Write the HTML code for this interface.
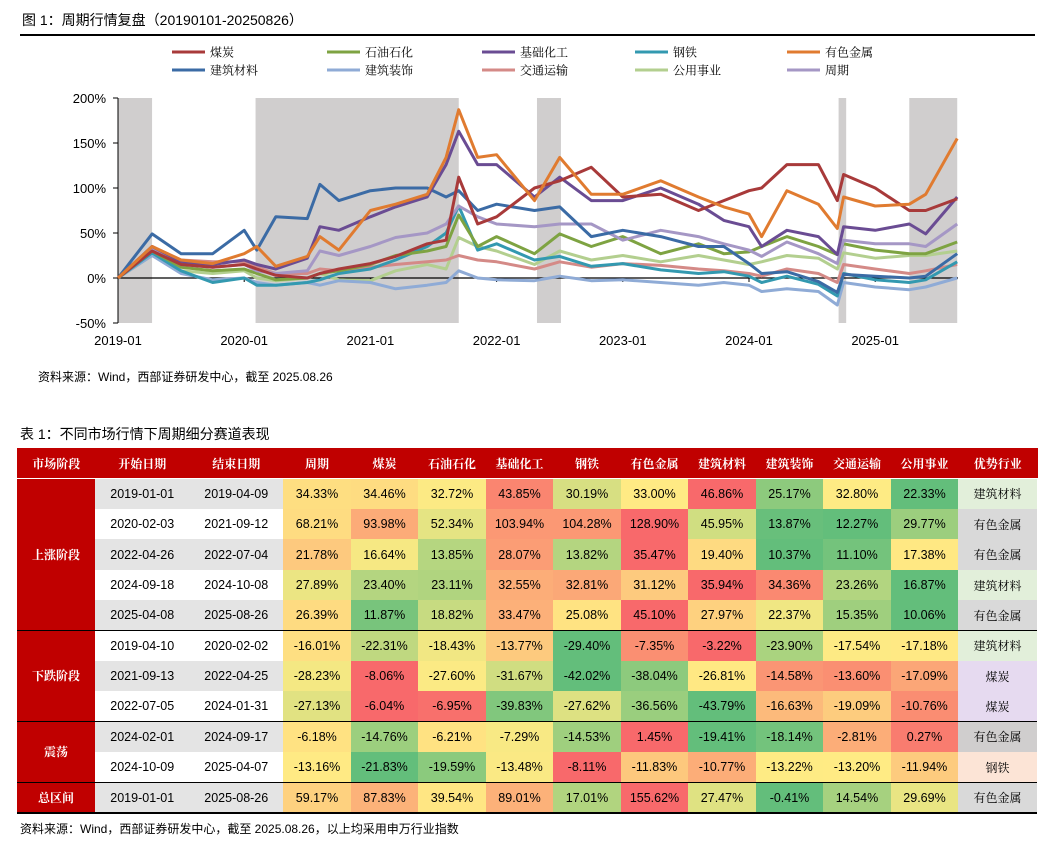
<!DOCTYPE html>
<html><head><meta charset="utf-8">
<style>
body{margin:0;background:#fff;width:1053px;height:852px;overflow:hidden;position:relative;font-family:"Liberation Sans","Noto Sans CJK SC",sans-serif;color:#000}
.abs{position:absolute}
.cell{position:absolute;display:flex;align-items:center;justify-content:center;font-size:12.5px;box-sizing:border-box}
.hd{color:#fff;font-weight:bold;font-size:12px;font-family:"Noto Serif CJK SC","Noto Sans CJK SC",sans-serif}
</style></head><body>
<div class="abs" style="left:22px;top:10px;font-size:14px">图 1：周期行情复盘（20190101-20250826）</div>
<div class="abs" style="left:20px;top:34px;width:1015px;height:1.5px;background:#000"></div>
<svg id="chart" class="abs" style="left:0;top:0" width="1053" height="360"></svg>
<div class="abs" style="left:38px;top:368px;font-size:12px">资料来源：Wind，西部证券研发中心，截至 2025.08.26</div>
<div class="abs" style="left:20px;top:424px;font-size:14px">表 1：不同市场行情下周期细分赛道表现</div>
<div id="tbl" class="abs" style="left:0;top:0"></div>
<div class="abs" style="left:20px;top:820px;font-size:12px">资料来源：Wind，西部证券研发中心，截至 2025.08.26，以上均采用申万行业指数</div>
<script>
const T=[2019.0,2019.27,2019.5,2019.75,2020.0,2020.1,2020.25,2020.5,2020.6,2020.75,2021.0,2021.2,2021.45,2021.6,2021.7,2021.85,2022.0,2022.3,2022.5,2022.75,2023.0,2023.3,2023.6,2023.8,2024.0,2024.1,2024.3,2024.55,2024.7,2024.75,2025.0,2025.27,2025.4,2025.65];
const seriesNames=["煤炭","石油石化","基础化工","钢铁","有色金属","建筑材料","建筑装饰","交通运输","公用事业","周期"];
const coal=[0,30,15,12,15,10,3,0,5,10,16,24,38,42,112,60,68,100,108,123,90,93,75,86,97,100,126,126,86,115,100,75,75,88];
const petro=[0,30,12,8,10,5,-2,0,5,8,15,25,30,35,70,35,46,27,49,35,46,27,38,27,29,35,46,35,26,38,31,27,27,40];
const chem=[0,35,18,15,20,15,10,22,57,53,68,79,90,126,163,126,126,90,112,86,86,100,82,64,57,35,53,46,26,57,53,60,49,90];
const steel=[0,28,8,-5,0,-8,-8,-5,-2,5,10,20,35,50,80,31,38,20,24,13,16,9,5,7,2,-5,2,-7,-20,5,-2,-5,-2,18];
const metal=[0,35,20,16,27,35,13,24,46,31,75,82,93,134,187,134,137,86,134,93,93,108,90,79,71,46,97,82,55,90,80,82,93,155];
const bmat=[0,49,27,27,53,31,68,66,104,86,97,100,100,90,97,75,82,75,79,46,53,46,35,35,16,5,7,-4,-16,4,2,0,2,27];
const bdec=[0,25,5,-2,0,-5,-8,-5,-8,-3,-5,-12,-8,-5,8,0,-2,-3,2,-3,-2,-5,-8,-5,-8,-15,-12,-15,-30,-5,-10,-13,-10,0];
const trans=[0,35,20,18,18,12,5,5,10,8,12,15,18,20,25,20,18,10,18,12,16,14,10,8,5,2,10,5,-5,15,10,5,8,15];
const util=[0,25,8,5,8,0,-3,0,5,-2,-3,8,15,10,45,35,30,15,30,20,25,18,25,20,15,18,25,22,10,28,22,25,25,30];
const cyc=[0,33,15,12,15,8,5,8,30,25,35,45,50,60,80,68,60,57,60,60,42,53,46,38,31,24,40,27,16,42,38,38,35,60];
const yTicks=[200,150,100,50,0,-50];
const xTicks=["2019-01","2020-01","2021-01","2022-01","2023-01","2024-01","2025-01"];
const shades=[[2019.0,2019.27],[2020.09,2021.70],[2022.32,2022.51],[2024.71,2024.77],[2025.27,2025.65]];
const colors=["#A83A3A","#7EA342","#6A4C93","#3399B0","#E07B30","#3B6BA5","#8FABD6","#D48A87","#B3CF8F","#A597C5"];
const ser=[coal,petro,chem,steel,metal,bmat,bdec,trans,util,cyc];
const drawOrder=[8,7,6,3,1,9,5,2,0,4];
const X=t=>118+(t-2019)*126.2, Y=v=>278-v*0.9;
const NS="http://www.w3.org/2000/svg",svg=document.getElementById('chart');
function mk(tag,a){const e=document.createElementNS(NS,tag);for(const k in a)e.setAttribute(k,a[k]);svg.appendChild(e);return e;}
shades.forEach((s,i)=>{const r=mk('rect',{x:X(s[0]),y:Y(200),width:X(s[1])-X(s[0]),height:Y(-50)-Y(200),fill:'#D0CECE'});

});
yTicks.forEach(v=>{const l=mk('line',{x1:113,x2:118,y1:Y(v),y2:Y(v),stroke:'#000'});


const t=mk('text',{x:106,y:Y(v)+5,'text-anchor':'end','font-size':13,'font-family':'Liberation Sans, sans-serif'});t.textContent=v+'%';

});
const ax=mk('line',{x1:118,x2:118,y1:Y(200),y2:Y(-50),stroke:'#000'});


const zl=mk('line',{x1:118,x2:958,y1:Y(0),y2:Y(0),stroke:'#000','stroke-width':1.3});


xTicks.forEach((s,i)=>{const x=X(2019+i);const l=mk('line',{x1:x,x2:x,y1:Y(0),y2:Y(0)+4,stroke:'#000'});


const t=mk('text',{x:x,y:345,'text-anchor':'middle','font-size':13,'font-family':'Liberation Sans, sans-serif'});t.textContent=s;

});
drawOrder.forEach(i=>{const p=mk('polyline',{points:ser[i].map((v,j)=>X(T[j]).toFixed(1)+','+Y(v).toFixed(1)).join(' '),fill:'none',stroke:colors[i],'stroke-width':3,'stroke-linejoin':'round'});

});
const legX=[172,327,482,635,787];
seriesNames.forEach((n,i)=>{const x=legX[i%5],y=i<5?52:70;
const l=mk('line',{x1:x,x2:x+33,y1:y,y2:y,stroke:colors[i],'stroke-width':3});


const t=mk('text',{x:x+38,y:y+4.5,'font-size':12,'font-family':'Noto Serif CJK SC, Noto Sans CJK SC, sans-serif'});t.textContent=n;

});

const heads=["市场阶段","开始日期","结束日期","周期","煤炭","石油石化","基础化工","钢铁","有色金属","建筑材料","建筑装饰","交通运输","公用事业","优势行业"];
const starts=["2019-01-01","2020-02-03","2022-04-26","2024-09-18","2025-04-08","2019-04-10","2021-09-13","2022-07-05","2024-02-01","2024-10-09","2019-01-01"];
const ends=["2019-04-09","2021-09-12","2022-07-04","2024-10-08","2025-08-26","2020-02-02","2022-04-25","2024-01-31","2024-09-17","2025-04-07","2025-08-26"];
const vals=[[34.33,34.46,32.72,43.85,30.19,33.00,46.86,25.17,32.80,22.33],
[68.21,93.98,52.34,103.94,104.28,128.90,45.95,13.87,12.27,29.77],
[21.78,16.64,13.85,28.07,13.82,35.47,19.40,10.37,11.10,17.38],
[27.89,23.40,23.11,32.55,32.81,31.12,35.94,34.36,23.26,16.87],
[26.39,11.87,18.82,33.47,25.08,45.10,27.97,22.37,15.35,10.06],
[-16.01,-22.31,-18.43,-13.77,-29.40,-7.35,-3.22,-23.90,-17.54,-17.18],
[-28.23,-8.06,-27.60,-31.67,-42.02,-38.04,-26.81,-14.58,-13.60,-17.09],
[-27.13,-6.04,-6.95,-39.83,-27.62,-36.56,-43.79,-16.63,-19.09,-10.76],
[-6.18,-14.76,-6.21,-7.29,-14.53,1.45,-19.41,-18.14,-2.81,0.27],
[-13.16,-21.83,-19.59,-13.48,-8.11,-11.83,-10.77,-13.22,-13.20,-11.94],
[59.17,87.83,39.54,89.01,17.01,155.62,27.47,-0.41,14.54,29.69]];
const best=["建筑材料","有色金属","有色金属","建筑材料","有色金属","建筑材料","煤炭","煤炭","有色金属","钢铁","有色金属"];
const groups=[["上涨阶段",0,5],["下跌阶段",5,3],["震荡",8,2],["总区间",10,1]];
const tb=document.getElementById('tbl');
const colX=[17,95,189,283,350.5,418,485.5,553,620.5,688,755.5,823,890.5,958,1037];
const top0=448,hH=30,rH=30.36,r0=478.5;
function cell(x,y,w,h,txt,bg,cls){const d=document.createElement('div');d.className='cell '+(cls||'');d.style.cssText+=`left:${x}px;top:${y}px;width:${w}px;height:${h}px;background:${bg}`;d.textContent=txt;tb.appendChild(d);return d;}
heads.forEach((h,i)=>{const c=cell(colX[i],top0,colX[i+1]-colX[i]+0.5,hH,h,'#C00000','hd');

});
function lerp(a,b,t){return a.map((v,i)=>Math.round(v+(b[i]-v)*t));}
const G=[99,190,123],Yl=[255,235,132],R=[248,105,107];
function scale(v,arr){const s=[...arr].sort((a,b)=>a-b);const mn=s[0],mx=s[s.length-1],md=(s[4]+s[5])/2;
let c=v<=md?lerp(G,Yl,(v-mn)/(md-mn||1)):lerp(Yl,R,(v-md)/(mx-md||1));return `rgb(${c})`;}
const bestBg={"建筑材料":"#E2EFDA","有色金属":"#D9D9D9","煤炭":"#E6DAF0","钢铁":"#FCE4D6"};
for(let r=0;r<11;r++){const y=r0+r*rH;const g=(r%2==0)?'#E4E4E4':'#FFFFFF';
let c=cell(colX[1],y,colX[2]-colX[1]+0.5,rH+0.5,starts[r],g);


c=cell(colX[2],y,colX[3]-colX[2]+0.5,rH+0.5,ends[r],g);


vals[r].forEach((v,k)=>{const cc=cell(colX[3+k],y,colX[4+k]-colX[3+k]+0.5,rH+0.5,v.toFixed(2)+'%',scale(v,vals[r]));

});
c=cell(colX[13],y,colX[14]-colX[13],rH+0.5,best[r],r==8?'#D0CECE':bestBg[best[r]]);
c.style.fontFamily='"Noto Serif CJK SC",sans-serif';c.style.fontSize='12px';

}
groups.forEach(g=>{const c=cell(colX[0],r0+g[1]*rH,colX[1]-colX[0],g[2]*rH,g[0],'#C00000','hd');


if(g[1]>0){const l=document.createElement('div');l.className='abs';l.style.cssText=`left:17px;top:${r0+g[1]*rH-0.5}px;width:1020px;height:1px;background:#000`;


tb.appendChild(l);}});
const bl=document.createElement('div');bl.className='abs';bl.style.cssText=`left:17px;top:${r0+11*rH}px;width:1020px;height:1.5px;background:#000`;


tb.appendChild(bl);
</script>
</body></html>
